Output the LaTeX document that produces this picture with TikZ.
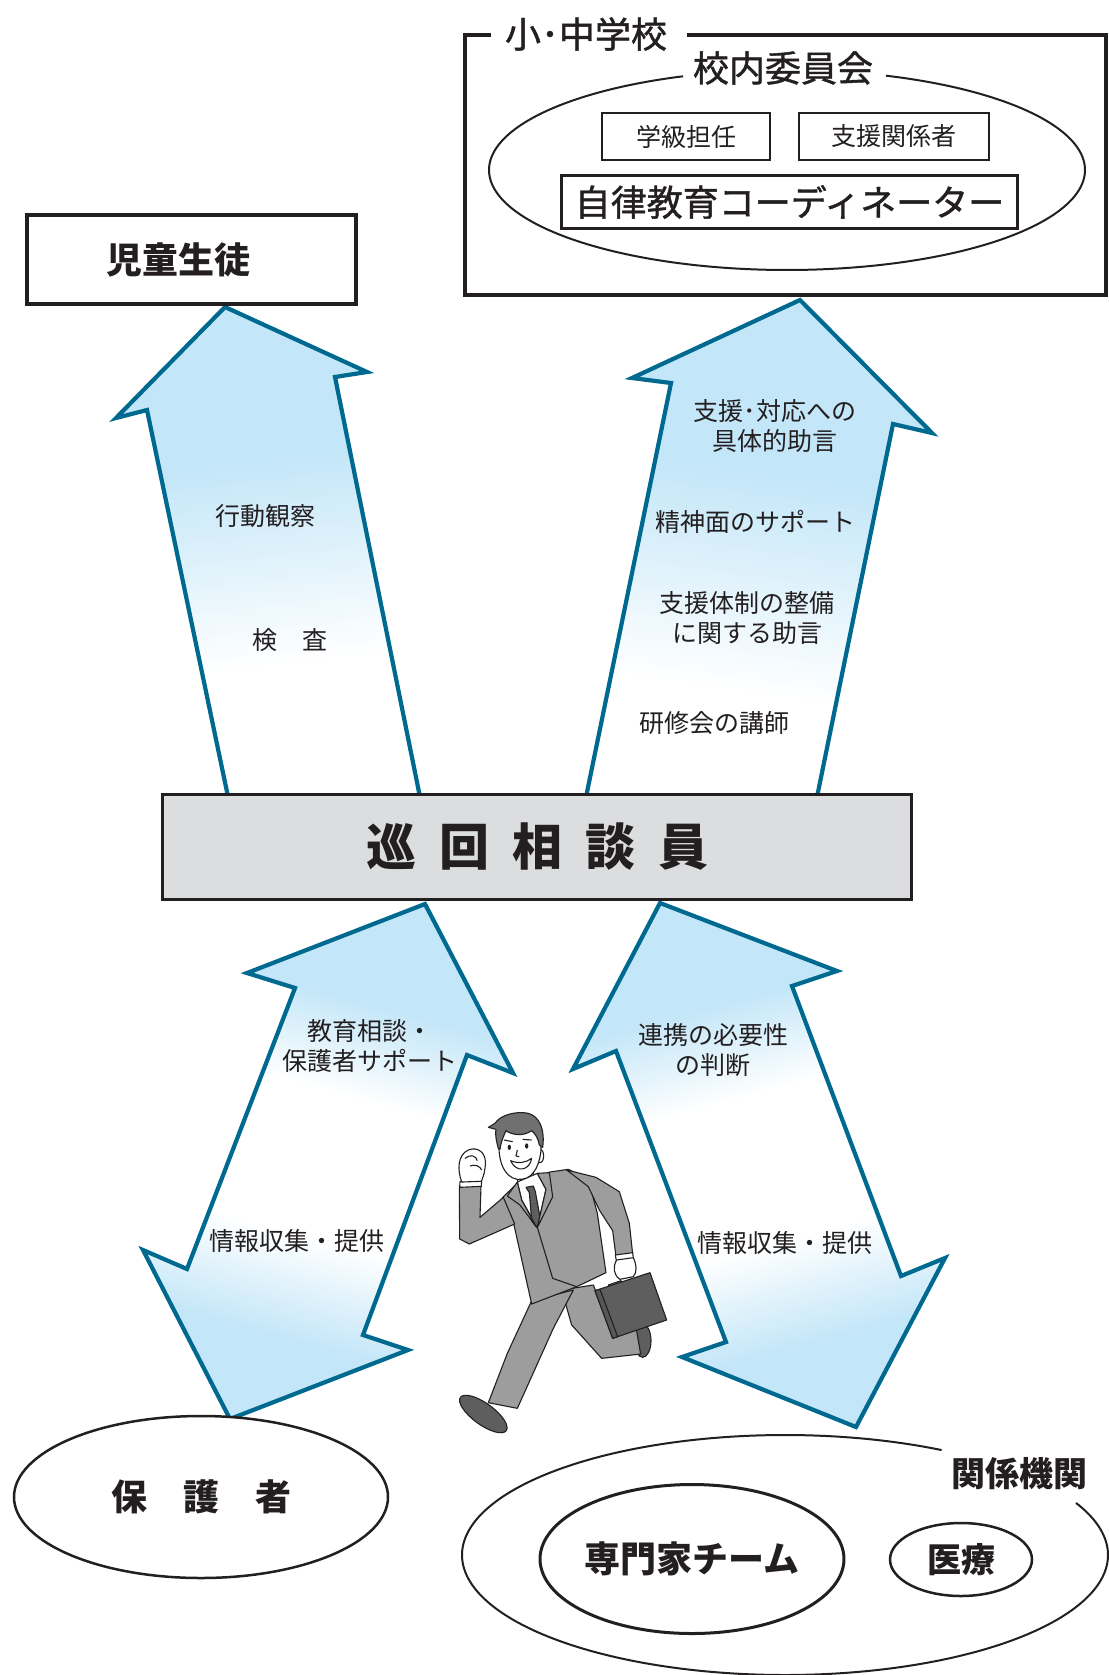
\documentclass[tikz,border=0pt]{standalone}
\usepackage{fontspec}
\setmainfont{Noto Sans CJK JP}
\newfontfamily\jpmedium{Noto Sans CJK JP}[FakeBold=1.2]
\usetikzlibrary{shapes.geometric}

\definecolor{ink}{HTML}{231F20}
\definecolor{arrowline}{HTML}{00698F}
\definecolor{arrowfill}{HTML}{C3E6F8}
\definecolor{boxgray}{HTML}{DCDDDF}
\definecolor{suit}{HTML}{9D9D9D}
\definecolor{suitdark}{HTML}{5E5E5E}
\definecolor{hair}{HTML}{707070}

% fades for the block arrows (0bp = bottom, 100bp = top)
\pgfdeclareverticalshading{fadeupleft}{100bp}{color(0bp)=(white); color(38bp)=(white); color(60bp)=(arrowfill); color(100bp)=(arrowfill)}
\pgfdeclareverticalshading{fadeupright}{100bp}{color(0bp)=(white); color(35bp)=(white); color(58bp)=(arrowfill); color(100bp)=(arrowfill)}
\pgfdeclareverticalshading{fadeboth}{100bp}{color(0bp)=(arrowfill); color(31bp)=(arrowfill); color(42bp)=(white); color(57bp)=(white); color(67bp)=(arrowfill); color(100bp)=(arrowfill)}

\begin{document}
\begin{tikzpicture}[x=1pt, y=-1pt,
  every node/.style={text=ink, inner sep=0pt},
  heavyframe/.style={draw=ink, line width=4pt},
  memberbox/.style={draw=ink, line width=2.6pt, fill=white},
  blockarrow/.style={draw=arrowline, line width=4.2pt, line join=miter},
  thinring/.style={draw=ink, line width=2pt},
  ringnode/.style={ellipse, draw=ink, fill=white},
  bigtext/.style={font=\fontsize{36}{40}\selectfont\jpmedium},
  boldtext/.style={font=\fontsize{36}{40}\selectfont\bfseries},
  armtext/.style={font=\fontsize{25}{30}\selectfont, align=center},
  outline/.style={draw=ink, line width=1.1pt, line join=round}
]
\useasboundingbox (0,0) rectangle (1108,1675);

% ---- block arrows ----
\shadedraw[blockarrow, shading=fadeupleft, shading angle=7]
  (225,307) -- (367,372) -- (335,377) -- (420.6,800) -- (228.7,800) -- (147,410) -- (116,418) -- cycle;
\shadedraw[blockarrow, shading=fadeupright, shading angle=-8]
  (800,300) -- (932,433) -- (893,424) -- (816.4,800) -- (585.4,800) -- (671,383) -- (632,378) -- cycle;
\shadedraw[blockarrow, shading=fadeboth, shading angle=-15]
  (425,904) -- (513,1073) -- (467,1055) -- (363,1335) -- (408,1350) -- (230,1419)
  -- (143,1250) -- (187,1269) -- (295,988) -- (247,973) -- cycle;
\shadedraw[blockarrow, shading=fadeboth, shading angle=15]
  (660,903) -- (837,971) -- (792,986) -- (901,1276) -- (945,1258) -- (856,1427)
  -- (682,1357) -- (726,1342) -- (616,1051) -- (573,1069) -- cycle;

% ---- arrow labels ----
\node[armtext] (obs)   at (265,516) {行動観察};
\node[armtext] (test)  at (290,640) {検　査};
\node[armtext] (adv1)  at (775,426) {支援･対応への\\具体的助言};
\node[armtext] (mind)  at (755,522) {精神面のサポート};
\node[armtext] (adv2)  at (747,618) {支援体制の整備\\に関する助言};
\node[armtext] (lect)  at (714,723) {研修会の講師};
\node[armtext] (cons)  at (370,1046) {教育相談・\\保護者サポート};
\node[armtext] (infoL) at (297,1241) {情報収集・提供};
\node[armtext] (link)  at (713,1050) {連携の必要性\\の判断};
\node[armtext] (infoR) at (785,1243) {情報収集・提供};

% ---- school frame ----
\draw[heavyframe] (491,35) -- (465,35) -- (465,295) -- (1106,295) -- (1106,35) -- (687,35);
\node[bigtext] (school) at (586,34) {小･中学校};
\draw[thinring] plot[domain=289.4:609.6, samples=220, smooth] ({787+298*cos(\x)}, {170+100*sin(\x)});
\node[bigtext] (committee) at (783,68) {校内委員会};
\node[memberbox, minimum width=168pt, minimum height=47pt, font=\fontsize{25}{30}\selectfont] (homeroom) at (686,136.5) {学級担任};
\node[memberbox, minimum width=190pt, minimum height=47pt, font=\fontsize{25}{30}\selectfont] (staff) at (894,136.5) {支援関係者};
\node[memberbox, line width=3pt, minimum width=456pt, minimum height=53pt, bigtext] (coord) at (789.5,202) {自律教育コーディネーター};

% ---- pupils ----
\node[heavyframe, fill=white, minimum width=329pt, minimum height=89pt] (pupil) at (191.5,259) {};
\node[boldtext] (pupiltext) at (178,260) {児童生徒};

% ---- visiting counsellor ----
\node[draw=ink, line width=3pt, fill=boxgray, minimum width=749pt, minimum height=105pt,
      font=\fontsize{50}{54}\selectfont\bfseries] (counsellor) at (537,846.5)
      {巡\hspace{23pt}回\hspace{23pt}相\hspace{23pt}談\hspace{23pt}員};

% ---- guardians ----
\node[ringnode, line width=2.5pt, minimum width=374pt, minimum height=162pt, boldtext] (guardian) at (201,1497) {保　護　者};

% ---- related agencies ----
\draw[thinring] plot[domain=-25.7:299, samples=260, smooth] ({785+323*cos(\x)}, {1555+120*sin(\x)});
\node[font=\fontsize{34}{38}\selectfont\bfseries] (agencies) at (1019,1474) {関係機関};
\node[ringnode, line width=3pt, minimum width=299pt, minimum height=149pt, boldtext] (experts) at (692,1559) {専門家チーム};
\node[ringnode, line width=2.5pt, minimum width=142pt, minimum height=73pt, font=\fontsize{34}{38}\selectfont\bfseries] (medical) at (961,1559.5) {医療};

% ---- running counsellor figure ----
\begin{scope}[shift={(420,1090)}, scale=1/3]
  % back leg and shoe
  \filldraw[outline, fill=suitdark] (668,752) ellipse [x radius=25, y radius=50];
  \filldraw[outline, fill=suit] (425,600) -- (520,585) -- (562,690) -- (648,712) -- (662,792) -- (545,805) -- (455,705) -- cycle;
  % front leg and shoe
  \filldraw[outline, fill=suit] (335,632) -- (460,600) -- (400,715) -- (292,955) -- (205,938) -- (262,790) -- cycle;
  \filldraw[outline, fill=suitdark, rotate around={-36:(190,972)}] (190,972) ellipse [x radius=85, y radius=32];
  % jacket
  \filldraw[outline, fill=suit] (248,322) -- (296,276) -- (390,246) -- (445,238) -- (505,268) -- (532,370) -- (558,548) -- (470,590) -- (335,642) -- (282,405) -- cycle;
  \draw[outline] (352,412) -- (398,565) -- (470,590);
  % arm with briefcase
  \filldraw[outline, fill=suit] (440,240) -- (528,262) -- (598,305) -- (628,400) -- (638,492) -- (588,500) -- (578,422) -- (538,360) -- (505,290) -- cycle;
  \filldraw[outline, fill=white] (586,495) -- (638,488) -- (640,505) -- (589,512) -- cycle;
  \filldraw[outline, fill=white] (590,510) -- (640,503) .. controls (650,525) and (652,545) .. (640,560) -- (600,568) .. controls (580,555) and (578,530) .. (590,510) -- cycle;
  \filldraw[outline, fill=suit] (565,585) -- (603,572) -- (607,584) -- (569,597) -- cycle;
  \filldraw[outline, fill=suitdark] (525,602) -- (690,548) -- (740,690) -- (578,745) -- cycle;
  \filldraw[outline, fill=ink!75] (525,602) -- (540,598) -- (593,740) -- (578,745) -- cycle;
  % raised arm and fist
  \filldraw[outline, fill=suit] (118,290) -- (183,287) -- (180,382) -- (250,322) -- (284,402) -- (148,462) -- (119,447) -- cycle;
  \filldraw[outline, fill=white] (120,275) -- (185,272) -- (184,289) -- (119,292) -- cycle;
  \filldraw[outline, fill=white] (125,276) .. controls (112,240) and (112,195) .. (145,180) .. controls (175,168) and (200,190) .. (196,225) .. controls (194,250) and (188,265) .. (184,274) -- cycle;
  \draw[outline] (135,205) .. controls (150,192) and (168,196) .. (172,212);
  \draw[outline] (150,228) .. controls (165,222) and (180,228) .. (185,240);
  % collar, tie and lapels
  \filldraw[outline, fill=white] (285,250) -- (335,245) -- (350,265) -- (296,280) -- cycle;
  \filldraw[outline, fill=white] (292,276) -- (352,250) -- (378,298) -- (352,412) -- (305,330) -- cycle;
  \filldraw[outline, fill=suitdark] (318,292) -- (340,288) -- (346,305) -- (362,392) -- (350,412) -- (335,392) -- (328,308) -- cycle;
  \filldraw[outline, fill=suit] (292,276) -- (262,318) -- (300,345) -- (350,412) -- (305,330) -- cycle;
  \filldraw[outline, fill=suit] (352,250) -- (388,248) -- (398,320) -- (352,412) -- (378,298) -- cycle;
  % head
  \filldraw[outline, fill=white] (360,198) ellipse [x radius=11, y radius=20];
  \filldraw[outline, fill=white] (238,150) .. controls (232,205) and (250,262) .. (292,268) .. controls (335,272) and (355,235) .. (362,190) .. controls (366,160) and (360,130) .. (340,115) -- (258,118) -- cycle;
  \filldraw[outline, fill=hair] (235,175) .. controls (228,150) and (225,130) .. (228,118) -- (205,112) -- (225,100) .. controls (240,75) and (290,62) .. (325,70) .. controls (360,80) and (375,120) .. (368,172) -- (358,165) .. controls (355,145) and (345,130) .. (335,122) .. controls (310,140) and (275,135) .. (258,122) .. controls (250,140) and (243,155) .. (240,178) -- cycle;
  \fill[ink] (268,172) ellipse [x radius=5, y radius=8];
  \fill[ink] (320,168) ellipse [x radius=5, y radius=8];
  \draw[outline] (252,150) -- (278,155);
  \draw[outline] (308,148) -- (335,150);
  \draw[outline] (292,180) -- (288,198) -- (298,200);
  \filldraw[outline, fill=white] (272,212) .. controls (295,222) and (318,218) .. (335,205) .. controls (330,240) and (290,252) .. (272,212) -- cycle;
\end{scope}
\end{tikzpicture}
\end{document}
